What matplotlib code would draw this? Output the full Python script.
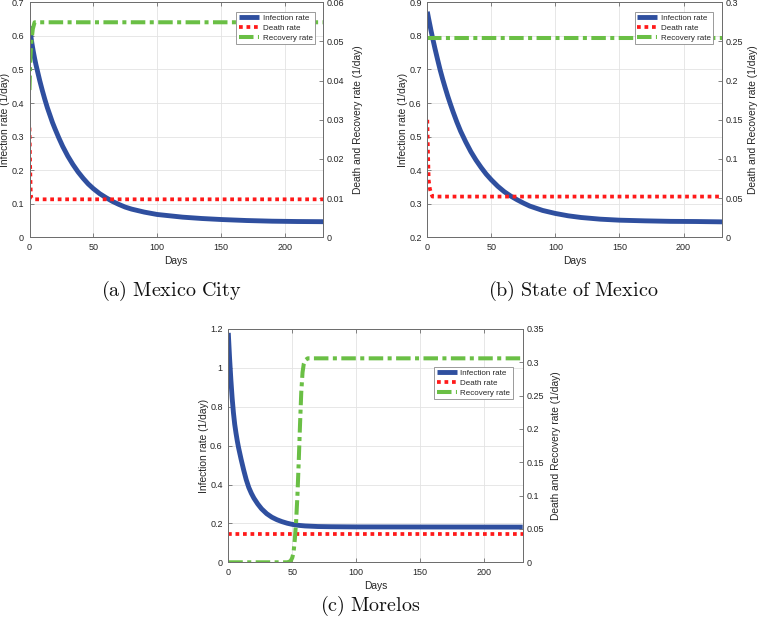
import matplotlib
matplotlib.use("Agg")
import matplotlib.pyplot as plt
from matplotlib.ticker import FuncFormatter

plt.rcParams['font.family'] = ['Liberation Sans', 'DejaVu Sans']
plt.rcParams['mathtext.fontset'] = 'cm'

# ---------------- data ----------------
# (a) Mexico City
inf_a_days = [0, 1, 2, 3, 4, 5, 6, 8, 10, 12, 14, 16, 18, 20, 23, 26, 30, 34, 38, 42, 46, 50, 55, 60,
              65, 70, 75, 80, 90, 100, 110, 120, 135, 150, 170, 190, 210, 230]
inf_a = [0.628, 0.600, 0.575, 0.553, 0.533, 0.515, 0.499, 0.467, 0.438, 0.411, 0.386, 0.364, 0.342,
         0.323, 0.296, 0.271, 0.242, 0.217, 0.195, 0.176, 0.159, 0.145, 0.130, 0.118, 0.107, 0.098,
         0.090, 0.084, 0.075, 0.068, 0.064, 0.060, 0.056, 0.053, 0.050, 0.048, 0.047, 0.0465]
death_a_days = [0, 0.5, 1.0, 1.5, 2.5, 230]
death_a = [0.028, 0.018, 0.011, 0.0099, 0.0097, 0.0097]
rec_a_days = [0, 0.5, 1.3, 2.6, 4, 230]
rec_a = [0.0376, 0.044, 0.0495, 0.0532, 0.0549, 0.0549]

# (b) State of Mexico
inf_b_days = [0, 1, 2, 3, 4, 5, 6, 8, 10, 12, 14, 16, 18, 20, 23, 26, 30, 34, 38, 42, 46, 50, 55, 60,
              65, 70, 75, 80, 90, 100, 110, 120, 135, 150, 170, 190, 210, 230]
inf_b = [0.872, 0.852, 0.833, 0.814, 0.796, 0.779, 0.762, 0.730, 0.699, 0.671, 0.645, 0.620, 0.597,
         0.575, 0.544, 0.516, 0.484, 0.455, 0.430, 0.408, 0.388, 0.371, 0.352, 0.336, 0.323, 0.312,
         0.302, 0.293, 0.280, 0.271, 0.264, 0.259, 0.254, 0.251, 0.249, 0.2475, 0.247, 0.246]
death_b_days = [0, 0.5, 1.1, 2, 3, 4, 230]
death_b = [0.150, 0.110, 0.073, 0.062, 0.056, 0.052, 0.052]
rec_b_days = [0, 230]
rec_b = [0.2546, 0.2546]

# (c) Morelos
inf_c_days = [0, 1, 2, 3, 4, 5, 6, 7, 8, 9, 10, 12, 14, 16, 18, 20, 23, 26, 30, 34, 38, 42, 46, 50,
              55, 60, 70, 80, 100, 230]
inf_c = [1.18, 1.05, 0.94, 0.845, 0.77, 0.71, 0.665, 0.625, 0.59, 0.56, 0.53, 0.475, 0.425, 0.385,
         0.355, 0.33, 0.30, 0.275, 0.25, 0.232, 0.219, 0.209, 0.201, 0.195, 0.19, 0.187, 0.184,
         0.183, 0.182, 0.181]
death_c_days = [0, 230]
death_c = [0.042, 0.042]
rec_c_days = [0, 46, 48, 49, 50, 51, 52, 53, 54, 55, 56, 57, 58, 59, 60, 62, 230]
rec_c = [0, 0, 0.001, 0.003, 0.007, 0.015, 0.035, 0.062, 0.10, 0.15, 0.205, 0.255, 0.285, 0.298,
         0.303, 0.306, 0.306]

captions = ['(a) Mexico City', '(b) State of Mexico', '(c) Morelos']
legend_labels = ['Infection rate', 'Death rate', 'Recovery rate']
xticks = [0, 50, 100, 150, 200]

# ---------------- style ----------------
BLUE = '#2f4f9f'
RED = '#ff1a1a'
GREEN = '#6abf45'
TXT = '#262626'
SPINE = '#6e6e6e'
TICK_FS = 6.5
LAB_FS = 7.4
W, H = 760.0, 628.0

fig = plt.figure(figsize=(7.6, 6.28), dpi=100)
fmt = FuncFormatter(lambda v, p: ('%g' % round(v, 6)))


def panel(px_left, px_right, px_top, px_bottom, data, lims, leg_anchor, rlab_off):
    rect = [px_left / W, 1 - px_bottom / H, (px_right - px_left) / W, (px_bottom - px_top) / H]
    ax = fig.add_axes(rect)
    ax2 = ax.twinx()
    (idays, ival), (ddays, dval), (rdays, rval) = data
    (yl0, yl1, ylstep), (yr0, yr1, yrstep) = lims

    l1, = ax.plot(idays, ival, color=BLUE, lw=3.5, solid_capstyle='butt', solid_joinstyle='round', zorder=3)
    l2, = ax2.plot(ddays, dval, color=RED, lw=2.7, dashes=(1, 1), dash_capstyle='butt')
    l3, = ax2.plot(rdays, rval, color=GREEN, lw=2.9, dashes=(3.6, 1.1, 1.0, 1.1), dash_capstyle='butt')

    ax.set_xlim(0, 230)
    ax.set_xticks(xticks)
    n = int(round((yl1 - yl0) / ylstep))
    ax.set_ylim(yl0, yl1)
    ax.set_yticks([yl0 + i * ylstep for i in range(n + 1)])
    m = int(round((yr1 - yr0) / yrstep))
    ax2.set_ylim(yr0, yr1)
    ax2.set_yticks([yr0 + i * yrstep for i in range(m + 1)])
    ax.yaxis.set_major_formatter(fmt)
    ax2.yaxis.set_major_formatter(fmt)

    ax.grid(True, color='#e3e3e3', lw=0.6)
    ax.set_axisbelow(True)
    for a in (ax, ax2):
        for s in a.spines.values():
            s.set_color(SPINE)
            s.set_linewidth(0.7)
    ax.tick_params(axis='both', direction='in', length=3, width=0.6, color=SPINE,
                   labelsize=TICK_FS, labelcolor=TXT, top=True)
    ax.tick_params(axis='x', pad=4)
    ax.tick_params(axis='y', pad=4)
    ax2.tick_params(axis='y', direction='in', length=3, width=0.6, color=SPINE,
                    labelsize=TICK_FS, labelcolor=TXT, pad=2.5)

    wpx = px_right - px_left
    hpx = px_bottom - px_top
    ax.set_xlabel('Days', fontsize=LAB_FS, color=TXT)
    ax.xaxis.label.set_verticalalignment('center')
    ax.xaxis.set_label_coords(0.5, -24.0 / hpx)
    ax.set_ylabel('Infection rate (1/day)', fontsize=LAB_FS, color=TXT)
    ax.yaxis.label.set_verticalalignment('center')
    ax.yaxis.set_label_coords(-24.0 / wpx, 0.5)
    ax2.set_ylabel('Death and Recovery rate (1/day)', fontsize=LAB_FS, color=TXT)
    ax2.yaxis.label.set_verticalalignment('center')
    ax2.yaxis.set_label_coords(1 + rlab_off / wpx, 0.5)

    leg = ax2.legend([l1, l2, l3], legend_labels, loc='upper right', bbox_to_anchor=leg_anchor,
                     fontsize=5.8, frameon=True, fancybox=False, edgecolor='#8a8a8a',
                     framealpha=1, borderpad=0.3, labelspacing=0.3, handlelength=2.5,
                     handletextpad=0.45, borderaxespad=0)
    leg.get_frame().set_linewidth(0.6)
    for t in leg.get_texts():
        t.set_color(TXT)
    return ax, ax2


panel(29.5, 323, 2.3, 237.3,
      [(inf_a_days, inf_a), (death_a_days, death_a), (rec_a_days, rec_a)],
      [(0, 0.7, 0.1), (0, 0.06, 0.01)], (0.973, 0.96), 35.0)
panel(427.3, 722, 2.3, 237.3,
      [(inf_b_days, inf_b), (death_b_days, death_b), (rec_b_days, rec_b)],
      [(0.2, 0.9, 0.1), (0, 0.3, 0.05)], (0.9705, 0.96), 31.0)
panel(228.3, 522.7, 329, 562.3,
      [(inf_c_days, inf_c), (death_c_days, death_c), (rec_c_days, rec_c)],
      [(0, 1.2, 0.2), (0, 0.35, 0.05)], (0.966, 0.838), 33.0)


def cap(s):
    return r'$\mathrm{' + s.replace(' ', r'\ ') + '}$'


fig.text(171 / W, 1 - 291 / H, cap(captions[0]), ha='center', va='center', fontsize=14.5, color='#111111')
fig.text(573 / W, 1 - 291 / H, cap(captions[1]), ha='center', va='center', fontsize=14.5, color='#111111')
fig.text(370 / W, 1 - 606 / H, cap(captions[2]), ha='center', va='center', fontsize=14.5, color='#111111')

fig.savefig('out.png', dpi=100)
